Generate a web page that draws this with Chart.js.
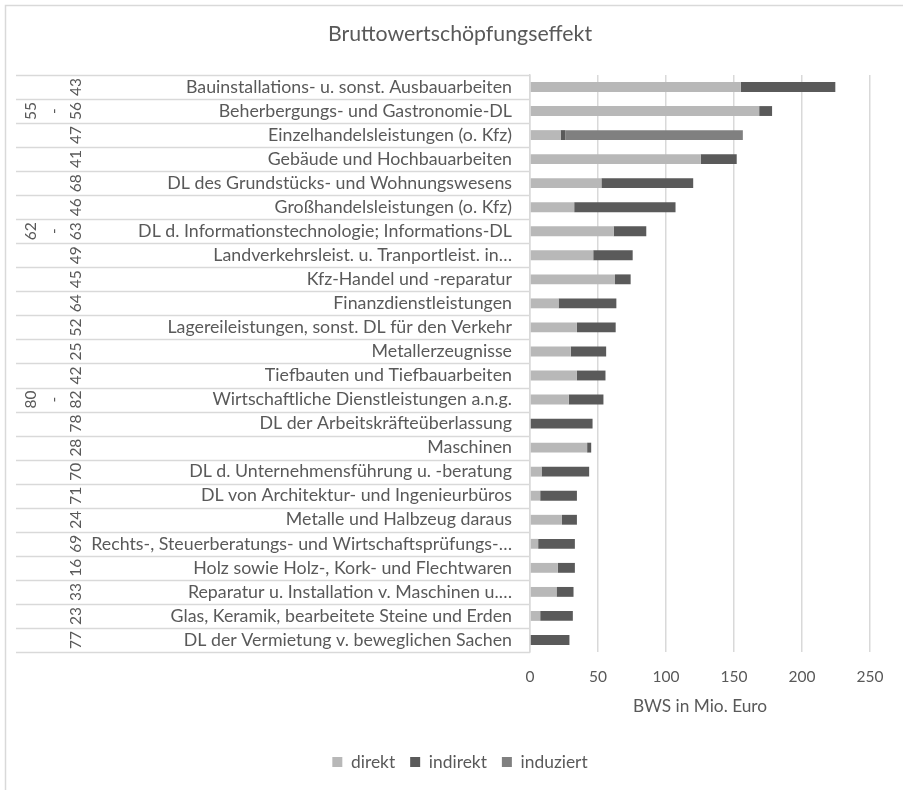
<!DOCTYPE html>
<html lang="de">
<head>
<meta charset="utf-8">
<title>Bruttowertschöpfungseffekt</title>
<script src="https://cdn.jsdelivr.net/npm/chart.js@4.4.1/dist/chart.umd.min.js"></script>
<style>
  html, body { margin: 0; padding: 0; background: #fff; }
</style>
</head>
<body>
<canvas id="bwsChart" width="903" height="790"></canvas>
<script>
// Branchen (Gütergruppen) und WZ-Abteilungen
const branchen = [
  'Bauinstallations- u. sonst. Ausbauarbeiten',
  'Beherbergungs- und Gastronomie-DL',
  'Einzelhandelsleistungen (o. Kfz)',
  'Gebäude und Hochbauarbeiten',
  'DL des Grundstücks- und Wohnungswesens',
  'Großhandelsleistungen (o. Kfz)',
  'DL d. Informationstechnologie; Informations-DL',
  'Landverkehrsleist. u. Tranportleist. in…',
  'Kfz-Handel und -reparatur',
  'Finanzdienstleistungen',
  'Lagereileistungen, sonst. DL für den Verkehr',
  'Metallerzeugnisse',
  'Tiefbauten und Tiefbauarbeiten',
  'Wirtschaftliche Dienstleistungen a.n.g.',
  'DL der Arbeitskräfteüberlassung',
  'Maschinen',
  'DL d. Unternehmensführung u. -beratung',
  'DL von Architektur- und Ingenieurbüros',
  'Metalle und Halbzeug daraus',
  'Rechts-, Steuerberatungs- und Wirtschaftsprüfungs-…',
  'Holz sowie Holz-, Kork- und Flechtwaren',
  'Reparatur u. Installation v. Maschinen u.…',
  'Glas, Keramik, bearbeitete Steine und Erden',
  'DL der Vermietung v. beweglichen Sachen'
];
const wzCodes = ['43', '55 - 56', '47', '41', '68', '46', '62 - 63', '49', '45', '64', '52', '25',
  '42', '80 - 82', '78', '28', '70', '71', '24', '69', '16', '33', '23', '77'];

// BWS in Mio. Euro
const direkt = [155, 168.5, 22.5, 125.5, 52.5, 32.5, 61.5, 46.5, 62.5, 21, 34.5, 30,
  34.5, 28.5, 0, 42, 8.5, 7.5, 23.5, 6, 20.5, 19.5, 7.5, 0];
const indirekt = [69.5, 9.5, 3.5, 26.5, 67.5, 74.5, 24, 29, 11.5, 42.5, 28.5, 26,
  21, 25.5, 46, 3, 35, 27, 11, 27, 12.5, 12.5, 24, 29];
const induziert = [0, 0, 130.5, 0, 0, 0, 0, 0, 0, 0, 0, 0,
  0, 0, 0, 0, 0, 0, 0, 0, 0, 0, 0, 0];

const xTicks = [0, 50, 100, 150, 200, 250];

const textColor = '#595959';
const lineColor = '#d9d9d9';
const fontFamily = 'Lato, "Open Sans", sans-serif';
const tableLeft = 16; // linker Rand der Beschriftungstabelle

// Rahmen, Trennlinien der Beschriftungstabelle und WZ-Nummern links
const labelTable = {
  id: 'labelTable',
  beforeDraw(chart) {
    const { ctx } = chart;
    const y = chart.scales.y;
    const step = y.getPixelForValue(1) - y.getPixelForValue(0);
    ctx.save();
    ctx.strokeStyle = lineColor;
    ctx.lineWidth = 1.5;
    ctx.strokeRect(5.5, 5.5, chart.width + 20, chart.height + 20);

    for (let i = 0; i <= branchen.length; i++) {
      const py = Math.round(y.getPixelForValue(i) - step / 2) + 0.5;
      ctx.beginPath();
      ctx.moveTo(tableLeft, py);
      ctx.lineTo(y.right, py);
      ctx.stroke();
    }

    ctx.fillStyle = textColor;
    ctx.font = '15.5px ' + fontFamily;
    ctx.textAlign = 'center';
    ctx.textBaseline = 'middle';
    wzCodes.forEach((code, i) => {
      const parts = code.split(' ');
      const cy = y.getPixelForValue(i);
      parts.forEach((p, k) => {
        const cx = tableLeft + 59 - (parts.length - 1 - k) * 22.5;
        ctx.save();
        ctx.translate(cx, cy);
        ctx.rotate(-Math.PI / 2);
        ctx.fillText(p, 0, 1);
        ctx.restore();
      });
    });
    ctx.restore();
  }
};

new Chart(document.getElementById('bwsChart'), {
  type: 'bar',
  data: {
    labels: branchen,
    datasets: [
      { label: 'direkt', data: direkt, backgroundColor: '#b8b8b8' },
      { label: 'indirekt', data: indirekt, backgroundColor: '#5a5a5a' },
      { label: 'induziert', data: induziert, backgroundColor: '#808080' }
    ]
  },
  options: {
    indexAxis: 'y',
    responsive: false,
    animation: false,
    devicePixelRatio: 1,
    datasets: { bar: { categoryPercentage: 1, barPercentage: 0.41, borderWidth: 0 } },
    layout: { padding: { left: 50, right: 33, top: 0, bottom: 9.3 } },
    scales: {
      x: {
        stacked: true,
        min: 0,
        max: 250,
        afterBuildTicks(scale) { scale.ticks = xTicks.map(v => ({ value: v })); },
        afterFit(scale) { scale.height = 86.3; },
        grid: { color: lineColor, lineWidth: 1.5, drawTicks: false },
        border: { display: false },
        ticks: { color: textColor, font: { family: fontFamily, size: 15.5 }, padding: 16 },
        title: {
          display: true,
          text: 'BWS in Mio. Euro',
          color: textColor,
          font: { family: fontFamily, size: 17.3 },
          padding: { top: 0, bottom: 21 }
        }
      },
      y: {
        stacked: true,
        afterFit(scale) { scale.width = 480; },
        grid: { display: false, drawTicks: false },
        border: { display: true, color: lineColor, width: 1.5 },
        ticks: {
          color: textColor,
          autoSkip: false,
          font: { family: fontFamily, size: 17.8 },
          padding: 18
        }
      }
    },
    plugins: {
      title: {
        display: true,
        text: 'Bruttowertschöpfungseffekt',
        color: textColor,
        font: { family: fontFamily, size: 21.3, weight: 'normal' },
        padding: { top: 21, bottom: 28.4 }
      },
      legend: {
        position: 'bottom',
        labels: {
          color: textColor,
          font: { family: fontFamily, size: 17.4 },
          boxWidth: 10,
          boxHeight: 10,
          padding: 15
        }
      },
      tooltip: { enabled: false }
    }
  },
  plugins: [labelTable]
});
</script>
</body>
</html>
